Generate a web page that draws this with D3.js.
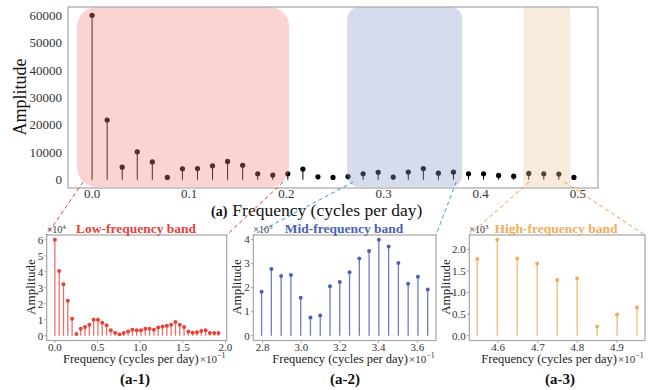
<!DOCTYPE html>
<html lang="en">
  <head>
    <title>Amplitude spectrum with frequency bands</title>
    <meta charset="utf-8"/>
    <script type="text/javascript" src="https://cdn.jsdelivr.net/npm/d3@7"></script>
    <style>
     body { margin: 0; background: #fff; }
     svg { display: block; font-family: "Liberation Serif", "Times New Roman", serif; }
    </style>
  </head>
  <body>
    <script type="text/javascript">
     // data ---------------------------------------------------------------------------
     let topFreq = [0, 0.0155, 0.031, 0.0465, 0.062, 0.0775, 0.093, 0.1085, 0.124, 0.1395,
                    0.155, 0.1705, 0.186, 0.2015, 0.217, 0.2325, 0.248, 0.2635, 0.279, 0.2945,
                    0.31, 0.3255, 0.341, 0.3565, 0.372, 0.3875, 0.403, 0.4185, 0.434, 0.4495,
                    0.465, 0.4805, 0.496];
     let topAmp = [60000, 21800, 4600, 10200, 6500, 850, 4000, 4100, 5100, 6700,
                   5300, 2200, 1700, 2200, 3900, 1100, 850, 1200, 2200, 2700,
                   1000, 2800, 4100, 2400, 2800, 2200, 2200, 1600, 1300, 2300,
                   2200, 2100, 850];
     let topYTicks = [0, 10000, 20000, 30000, 40000, 50000, 60000];
     let topXTicks = [0, 0.1, 0.2, 0.3, 0.4, 0.5];

     let lowFreq = [0, 0.00505, 0.0101, 0.01515, 0.0202, 0.02525, 0.0303, 0.03535, 0.0404, 0.04545,
                    0.0505, 0.05555, 0.0606, 0.06565, 0.0707, 0.07575, 0.0808, 0.08585, 0.0909, 0.09595,
                    0.101, 0.10605, 0.1111, 0.11615, 0.1212, 0.12625, 0.1313, 0.13635, 0.1414, 0.14645,
                    0.1515, 0.15655, 0.1616, 0.16665, 0.1717, 0.17675, 0.1818, 0.18685, 0.1919];
     let lowAmp = [60000, 40500, 32200, 21800, 10600, 1000, 4400, 5400, 6800, 10000,
                   10000, 8100, 6500, 3400, 1900, 900, 1700, 2700, 3700, 3400,
                   3400, 4400, 4400, 3700, 5200, 5800, 6200, 6800, 8500, 6800,
                   5400, 2700, 1900, 2100, 2900, 3400, 1700, 1700, 1700];
     let lowXTicks = [0, 0.05, 0.1, 0.15, 0.2];
     let lowYTicks = [0, 10000, 20000, 30000, 40000, 50000, 60000];

     let midFreq = [0.2795, 0.28455, 0.2896, 0.29465, 0.2997, 0.30475, 0.3098, 0.31485, 0.3199,
                    0.32495, 0.33, 0.33505, 0.3401, 0.34515, 0.3502, 0.35525, 0.3603, 0.36535];
     let midAmp = [1830, 2770, 2480, 2530, 1580, 760, 840, 2060, 2230,
                   2640, 3210, 3520, 3990, 3710, 3020, 2160, 2450, 1920];
     let midXTicks = [0.28, 0.30, 0.32, 0.34, 0.36];
     let midYTicks = [0, 1000, 2000, 3000, 4000];

     let highFreq = [0.4547, 0.45975, 0.4648, 0.46985, 0.4749, 0.47995, 0.485, 0.49005, 0.4951];
     let highAmp = [1776, 2224, 1790, 1676, 1290, 1330, 216, 494, 656];
     let highXTicks = [0.46, 0.47, 0.48, 0.49];
     let highYTicks = [0, 500, 1000, 1500, 2000];

     // frequency bands shaded on the top chart: [from, to]
     let bandLow = [-0.0155, 0.2029];
     let bandMid = [0.2626, 0.381];
     let bandHigh = [0.4439, 0.4923];

     let w = 652, h = 390;
     let svg = d3.select("body").append("svg")
                 .attr("width", w)
                 .attr("height", h);

     let frameColor = "#a6a6a6";
     let tickColor = "#333";

     // top chart -----------------------------------------------------------------------
     let tx = d3.scaleLinear().domain([-0.0248, 0.5208]).range([68, 598]);
     let ty = d3.scaleLinear().domain([-3000, 63000]).range([188, 7]);

     let topG = svg.append("g");

     topG.selectAll("line.stem")
        .data(topFreq)
        .enter()
        .append("line")
        .attr("class", "stem")
        .attr("x1", d => tx(d))
        .attr("x2", d => tx(d))
        .attr("y1", ty(0))
        .attr("y2", (d, i) => ty(topAmp[i]))
        .attr("stroke", "#000")
        .attr("stroke-width", 1);

     topG.selectAll("circle")
        .data(topFreq)
        .enter()
        .append("circle")
        .attr("cx", d => tx(d))
        .attr("cy", (d, i) => ty(topAmp[i]))
        .attr("r", 2.6)
        .attr("fill", "#000");

     // translucent bands drawn over the stems
     let bands = [
       {b: bandLow, fill: "rgb(240,128,128)", rx: 20},
       {b: bandMid, fill: "rgb(138,155,201)", rx: 12},
       {b: bandHigh, fill: "rgb(235,198,155)", rx: 4}
     ];
     topG.selectAll("rect.band")
        .data(bands)
        .enter()
        .append("rect")
        .attr("class", "band")
        .attr("x", d => tx(d.b[0]))
        .attr("width", d => tx(d.b[1]) - tx(d.b[0]))
        .attr("y", 7)
        .attr("height", 180)
        .attr("rx", d => d.rx)
        .attr("fill", d => d.fill)
        .attr("fill-opacity", 0.35);

     topG.append("rect")
        .attr("x", 68).attr("y", 7)
        .attr("width", 530).attr("height", 181)
        .attr("fill", "none")
        .attr("stroke", frameColor)
        .attr("stroke-width", 1.2);

     topG.selectAll("text.ytick")
        .data(topYTicks)
        .enter()
        .append("text")
        .attr("class", "ytick")
        .attr("x", 62)
        .attr("y", d => ty(d) + 4.5)
        .attr("text-anchor", "end")
        .attr("font-size", "13px")
        .attr("fill", tickColor)
        .text(d => d);

     topG.selectAll("text.xtick")
        .data(topXTicks)
        .enter()
        .append("text")
        .attr("class", "xtick")
        .attr("x", d => tx(d))
        .attr("y", 197.5)
        .attr("text-anchor", "middle")
        .attr("font-size", "13px")
        .attr("fill", tickColor)
        .text(d => d.toFixed(1));

     topG.append("text")
        .attr("transform", "translate(26,97) rotate(-90)")
        .attr("text-anchor", "middle")
        .attr("font-size", "18px")
        .attr("fill", "#111")
        .text("Amplitude");

     let xl = topG.append("text")
                 .attr("x", 211)
                 .attr("y", 215.5)
                 .attr("fill", "#111");
     xl.append("tspan").attr("font-size", "14px").attr("font-weight", "bold").text("(a)");
     xl.append("tspan").attr("dx", 5).attr("font-size", "17.5px").text("Frequency (cycles per day)");

     // bottom panels -------------------------------------------------------------------
     function panel(cfg) {
       let g = svg.append("g");
       let fr = d3.extent(cfg.freq);
       let pad = (fr[1] - fr[0]) * 0.05;
       let maxA = d3.max(cfg.amp);
       let x = d3.scaleLinear().domain([fr[0] - pad, fr[1] + pad]).range([cfg.left, cfg.right]);
       let y = d3.scaleLinear().domain([-0.05 * maxA, 1.05 * maxA]).range([340.5, 235]);

       g.selectAll("line.stem")
        .data(cfg.freq)
        .enter()
        .append("line")
        .attr("class", "stem")
        .attr("x1", d => x(d))
        .attr("x2", d => x(d))
        .attr("y1", y(0))
        .attr("y2", (d, i) => y(cfg.amp[i]))
        .attr("stroke", cfg.stem)
        .attr("stroke-width", 1.3);

       g.selectAll("circle")
        .data(cfg.freq)
        .enter()
        .append("circle")
        .attr("cx", d => x(d))
        .attr("cy", (d, i) => y(cfg.amp[i]))
        .attr("r", 2)
        .attr("fill", cfg.color);

       g.append("rect")
        .attr("x", cfg.left).attr("y", 235)
        .attr("width", cfg.right - cfg.left).attr("height", 105.5)
        .attr("fill", "none")
        .attr("stroke", frameColor)
        .attr("stroke-width", 1.2);

       // y ticks
       g.selectAll("line.yt")
        .data(cfg.yTicks)
        .enter()
        .append("line")
        .attr("class", "yt")
        .attr("x1", cfg.left - 2.5).attr("x2", cfg.left)
        .attr("y1", d => y(d)).attr("y2", d => y(d))
        .attr("stroke", frameColor);
       g.selectAll("text.yt")
        .data(cfg.yTicks)
        .enter()
        .append("text")
        .attr("class", "yt")
        .attr("x", cfg.left - 3.5)
        .attr("y", d => y(d) + 3.8)
        .attr("text-anchor", "end")
        .attr("font-size", "11px")
        .attr("fill", tickColor)
        .text(d => (d / cfg.yScale).toFixed(cfg.yDec));

       // x ticks
       g.selectAll("line.xt")
        .data(cfg.xTicks)
        .enter()
        .append("line")
        .attr("class", "xt")
        .attr("x1", d => x(d)).attr("x2", d => x(d))
        .attr("y1", 340.5).attr("y2", 343)
        .attr("stroke", frameColor);
       g.selectAll("text.xt")
        .data(cfg.xTicks)
        .enter()
        .append("text")
        .attr("class", "xt")
        .attr("x", d => x(d))
        .attr("y", 350.5)
        .attr("text-anchor", "middle")
        .attr("font-size", "11px")
        .attr("fill", tickColor)
        .text(d => (d * 10).toFixed(1));

       // offset labels
       let yo = g.append("text")
                 .attr("x", cfg.left)
                 .attr("y", 233)
                 .attr("font-size", "10px")
                 .attr("fill", tickColor);
       yo.append("tspan").text("×10");
       yo.append("tspan").attr("dy", -4).attr("font-size", "7px").text(cfg.yExp);

       let xo = g.append("text")
                 .attr("x", cfg.right - 27)
                 .attr("y", 363)
                 .attr("font-size", "11px")
                 .attr("fill", tickColor);
       xo.append("tspan").text("×10");
       xo.append("tspan").attr("dy", -5).attr("font-size", "8px").text("−1");

       g.append("text")
        .attr("x", cfg.right - 28)
        .attr("y", 363)
        .attr("text-anchor", "end")
        .attr("font-size", "12.5px")
        .attr("fill", "#222")
        .text("Frequency (cycles per day)");

       g.append("text")
        .attr("transform", "translate(" + (cfg.left - cfg.ylabOff) + ",287) rotate(-90)")
        .attr("text-anchor", "middle")
        .attr("font-size", "13px")
        .attr("fill", "#222")
        .text("Amplitude");

       g.append("text")
        .attr("x", cfg.titleX)
        .attr("y", 233)
        .attr("text-anchor", "middle")
        .attr("font-size", "13.5px")
        .attr("font-weight", "bold")
        .attr("fill", cfg.color)
        .text(cfg.title);

       g.append("text")
        .attr("x", cfg.labelX)
        .attr("y", 384)
        .attr("text-anchor", "middle")
        .attr("font-size", "15px")
        .attr("font-weight", "bold")
        .attr("fill", "#111")
        .text(cfg.label);
     }

     panel({freq: lowFreq, amp: lowAmp, xTicks: lowXTicks, yTicks: lowYTicks,
            left: 46.7, right: 226.7, yScale: 10000, yDec: 0, yExp: "4", ylabOff: 12,
            color: "#e8403a", stem: "#ee6f69", title: "Low-frequency band",
            titleX: 136, label: "(a-1)", labelX: 135});
     panel({freq: midFreq, amp: midAmp, xTicks: midXTicks, yTicks: midYTicks,
            left: 253.3, right: 436, yScale: 1000, yDec: 0, yExp: "3", ylabOff: 12.5,
            color: "#4a62b2", stem: "#6a7fc0", title: "Mid-frequency band",
            titleX: 344, label: "(a-2)", labelX: 345});
     panel({freq: highFreq, amp: highAmp, xTicks: highXTicks, yTicks: highYTicks,
            left: 469.3, right: 645, yScale: 1000, yDec: 1, yExp: "3", ylabOff: 19,
            color: "#f0ad5c", stem: "#f3ba78", title: "High-frequency band",
            titleX: 556, label: "(a-3)", labelX: 560});

     // dashed connectors from the bands to the panels --------------------------------
     let links = [
       {x1: tx(bandLow[0]) + 6, x2: 46.7, c: "#e8403a"},
       {x1: tx(bandLow[1]) - 6, x2: 226.7, c: "#e8403a"},
       {x1: tx(bandMid[0]) + 6, x2: 253.3, c: "#3a9ad9"},
       {x1: tx(bandMid[1]) - 6, x2: 436, c: "#3a9ad9"},
       {x1: tx(bandHigh[0]) + 6, x2: 469.3, c: "#ec9a45"},
       {x1: tx(bandHigh[1]) - 6, x2: 645, c: "#ec9a45"}
     ];
     svg.selectAll("line.link")
        .data(links)
        .enter()
        .append("line")
        .attr("class", "link")
        .attr("x1", d => d.x1).attr("y1", 182)
        .attr("x2", d => d.x2).attr("y2", 235)
        .attr("stroke", d => d.c)
        .attr("stroke-width", 1)
        .attr("stroke-dasharray", "4,3");
    </script>
  </body>
</html>
